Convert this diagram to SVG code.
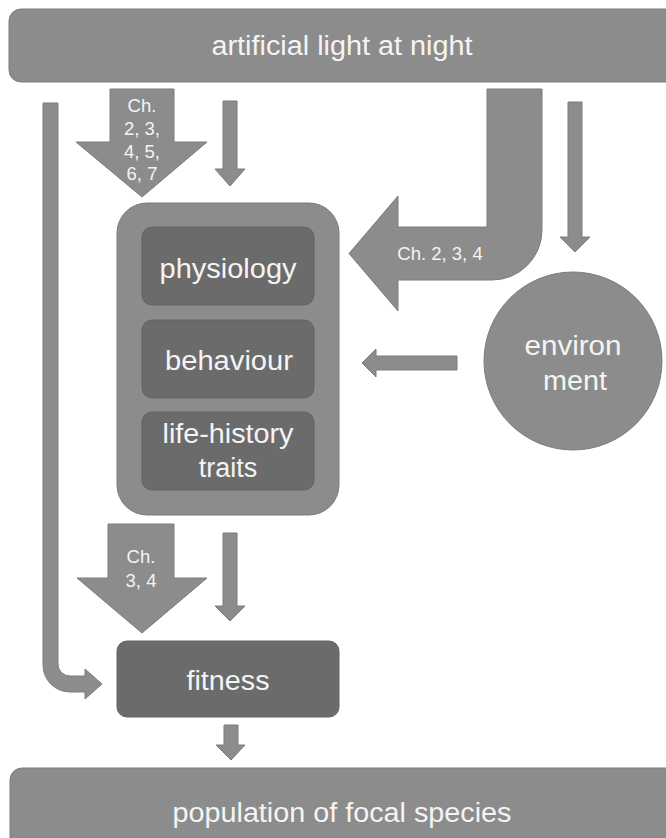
<svg xmlns="http://www.w3.org/2000/svg" width="666" height="838" viewBox="0 0 666 838">
<style>
.lt{fill:#8c8c8c;stroke:#7c7c7c;stroke-width:1}
.dk{fill:#6b6b6b;stroke:#626262;stroke-width:1}
.ar{fill:#8c8c8c;stroke:#7c7c7c;stroke-width:1}
.t{font-family:"Liberation Sans",Arial,sans-serif;fill:#f4f4f4;text-anchor:middle}
.big{font-size:27px}
.sm{font-size:18.5px}
</style>
<rect width="666" height="838" fill="#ffffff"/>
<g id="alan">
<rect class="lt" x="9" y="9" width="670" height="73" rx="12"/>
<text class="t big" x="342" y="55" textLength="261" lengthAdjust="spacingAndGlyphs">artificial light at night</text>
</g>
<g id="traits">
<rect class="lt" x="117" y="203" width="222" height="312" rx="30"/>
</g>
<g id="physiology">
<rect class="dk" x="142" y="227" width="172" height="78" rx="10"/>
<text class="t big" x="228" y="278" textLength="137" lengthAdjust="spacingAndGlyphs">physiology</text>
</g>
<g id="behaviour">
<rect class="dk" x="142" y="320" width="172" height="78" rx="10"/>
<text class="t big" x="229" y="370" textLength="128" lengthAdjust="spacingAndGlyphs">behaviour</text>
</g>
<g id="lifehistory">
<rect class="dk" x="142" y="412" width="172" height="78" rx="10"/>
<text class="t big" x="228" y="443" textLength="131" lengthAdjust="spacingAndGlyphs">life-history</text>
<text class="t big" x="228" y="477">traits</text>
</g>
<g id="environment">
<circle class="lt" cx="573" cy="361" r="89"/>
<text class="t big" x="573" y="355" textLength="97" lengthAdjust="spacingAndGlyphs">environ</text>
<text class="t big" x="575" y="390" textLength="64" lengthAdjust="spacingAndGlyphs">ment</text>
</g>
<g id="fitness">
<rect class="dk" x="117" y="641" width="222" height="76" rx="10"/>
<text class="t big" x="228" y="690" textLength="83" lengthAdjust="spacingAndGlyphs">fitness</text>
</g>
<g id="population">
<rect class="lt" x="10" y="768" width="670" height="90" rx="12"/>
<text class="t big" x="342" y="822" textLength="339" lengthAdjust="spacingAndGlyphs">population of focal species</text>
</g>
<g id="connectors">
<path class="ar" d="M43,103 L58,103 L58,664 A12,12 0 0 0 70,676 L85,676 L85,669 L102,684 L85,699 L85,692 L70,692 A27,27 0 0 1 43,665 Z"/>
<path class="ar" d="M110,89 L174,89 L174,142 L207,142 L142,197 L76,142 L110,142 Z"/>
<text class="t sm" x="142" y="112">Ch.</text>
<text class="t sm" x="142" y="135">2, 3,</text>
<text class="t sm" x="142" y="158">4, 5,</text>
<text class="t sm" x="142" y="180">6, 7</text>
<path class="ar" d="M223,101 L237,101 L237,169 L245,169 L230,186 L215,169 L223,169 Z"/>
<path class="ar" d="M487,89 L542,89 L542,230 A50,50 0 0 1 492,280 L398,280 L398,311 L349,253.5 L398,196 L398,227 L487,227 Z"/>
<text class="t sm" x="440" y="260">Ch. 2, 3, 4</text>
<path class="ar" d="M568,102 L582,102 L582,237 L590,237 L575,252 L560,237 L568,237 Z"/>
<path class="ar" d="M457,356 L457,370 L376,370 L376,377 L362,363 L376,349 L376,356 Z"/>
<path class="ar" d="M108,524 L174,524 L174,578 L207,578 L142,633 L77,578 L108,578 Z"/>
<text class="t sm" x="141" y="563">Ch.</text>
<text class="t sm" x="141" y="587">3, 4</text>
<path class="ar" d="M223,533 L237,533 L237,606 L245,606 L230,621 L215,606 L223,606 Z"/>
<path class="ar" d="M224,725 L238,725 L238,745 L245,745 L231,760 L216,745 L224,745 Z"/>
</g>
</svg>
